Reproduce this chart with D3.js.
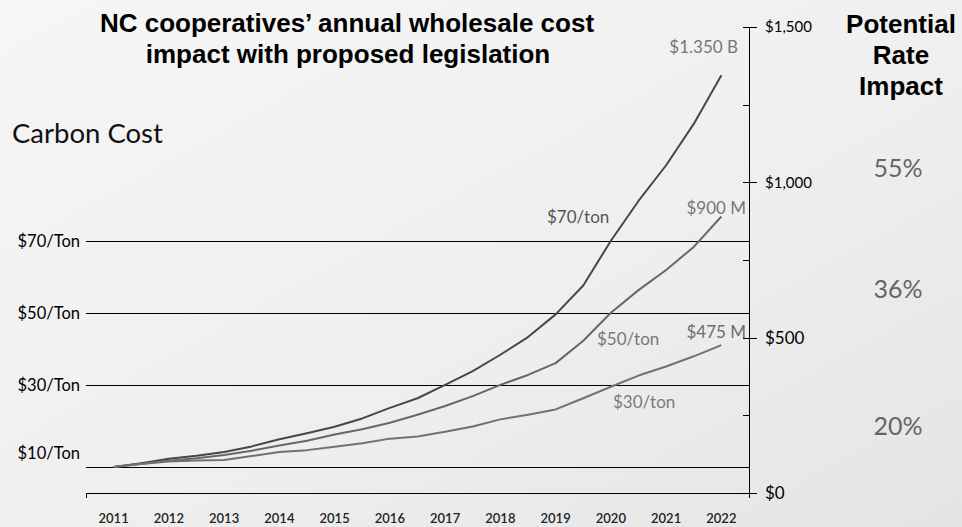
<!DOCTYPE html>
<html>
<head>
<meta charset="utf-8">
<script src="https://cdn.jsdelivr.net/npm/d3@7"></script>
<style>
  html, body { margin: 0; padding: 0; }
  body { width: 962px; height: 527px; overflow: hidden; }
  text { font-family: "Gill Sans", "Gill Sans MT", Lato, sans-serif; }
  .title { font-family: Arial, "Liberation Sans", sans-serif; font-weight: bold; }
</style>
</head>
<body>
<div id="chart"></div>
<script>
// half-year steps, 2011 -> 2022
var periods = [2011, 2011.5, 2012, 2012.5, 2013, 2013.5, 2014, 2014.5, 2015, 2015.5, 2016, 2016.5,
               2017, 2017.5, 2018, 2018.5, 2019, 2019.5, 2020, 2020.5, 2021, 2021.5, 2022];
// annual wholesale cost impact, $ millions
var cost70 = [84, 96, 110, 120, 132, 150, 173, 192, 213, 240, 274, 305,
              348, 392, 445, 502, 575, 668, 812, 940, 1055, 1188, 1345];
var cost50 = [84, 94, 104, 112, 122, 136, 153, 168, 188, 205, 226, 252,
              280, 312, 348, 380, 418, 490, 580, 653, 718, 792, 890];
var cost30 = [84, 93, 101, 105, 106, 119, 132, 138, 149, 160, 175, 182,
              197, 214, 237, 252, 269, 305, 342, 378, 407, 440, 476];

var xTickYears = [2011, 2012, 2013, 2014, 2015, 2016, 2017, 2018, 2019, 2020, 2021, 2022];
var costTicks = [0, 500, 1000, 1500];
var costMinorTicks = [250, 750, 1250];

// carbon price guide lines, read in cost units off the right axis
var carbonLabels = ["$10/Ton", "$30/Ton", "$50/Ton", "$70/Ton"];
var carbonLevels = [84, 348, 579, 811];

var seriesNames = ["$70/ton", "$50/ton", "$30/ton"];
var endLabels = ["$1.350 B", "$900 M", "$475 M"];
var rateImpact = ["55%", "36%", "20%"];

var width = 962, height = 527;
var margin = { left: 86, right: 213, top: 27, bottom: 34 };

var svg = d3.select("#chart").append("svg")
    .attr("width", width)
    .attr("height", height);

var defs = svg.append("defs");
var grad = defs.append("linearGradient")
    .attr("id", "bg")
    .attr("x1", "0").attr("y1", "0").attr("x2", "1").attr("y2", "1");
grad.append("stop").attr("offset", "0%").attr("stop-color", "#f6f6f6");
grad.append("stop").attr("offset", "55%").attr("stop-color", "#efefef");
grad.append("stop").attr("offset", "100%").attr("stop-color", "#e4e4e4");

svg.append("rect")
    .attr("width", width)
    .attr("height", height)
    .attr("fill", "url(#bg)");

var x = d3.scaleLinear()
    .domain([2010.5, 2022.5])
    .range([margin.left, width - margin.right]);

var y = d3.scaleLinear()
    .domain([0, 1500])
    .range([height - margin.bottom, margin.top]);

var x0 = x.range()[0], x1 = x.range()[1];

// title
var title = svg.append("text")
    .attr("class", "title")
    .attr("text-anchor", "middle")
    .attr("font-size", "26px")
    .attr("fill", "#000");
title.append("tspan").attr("x", 347).attr("y", 32).text("NC cooperatives\u2019 annual wholesale cost");
title.append("tspan").attr("x", 348).attr("y", 63).text("impact with proposed legislation");

var side = svg.append("text")
    .attr("class", "title")
    .attr("text-anchor", "middle")
    .attr("font-size", "26px")
    .attr("fill", "#000");
["Potential", "Rate", "Impact"].forEach(function(t, i) {
    side.append("tspan").attr("x", 901).attr("y", 33 + i * 31).text(t);
});

svg.append("text")
    .attr("x", 12)
    .attr("y", 143)
    .attr("font-size", "27.5px")
    .attr("fill", "#111")
    .text("Carbon Cost");

// carbon guide lines
var guides = svg.append("g");
carbonLevels.forEach(function(v, i) {
    guides.append("line")
        .attr("x1", x0).attr("x2", x1)
        .attr("y1", Math.round(y(v)) + 0.5).attr("y2", Math.round(y(v)) + 0.5)
        .attr("stroke", "#000")
        .attr("stroke-width", 1);
    guides.append("text")
        .attr("x", 80)
        .attr("y", y(v) - (i === 0 ? 14 : 0))
        .attr("dy", "0.35em")
        .attr("text-anchor", "end")
        .attr("font-size", "16.5px")
        .attr("fill", "#000")
        .text(carbonLabels[i]);
});

// bottom axis
var xAxis = svg.append("g");
xAxis.append("path")
    .attr("d", "M" + (x0 + 0.5) + "," + (y(0) + 5) + "V" + (y(0) + 0.5) + "H" + x1)
    .attr("fill", "none")
    .attr("stroke", "#000");
xAxis.selectAll("text.year")
    .data(xTickYears)
    .join("text")
    .attr("class", "year")
    .attr("x", function(d) { return x(d); })
    .attr("y", 523)
    .attr("text-anchor", "middle")
    .attr("font-size", "13px")
    .attr("font-weight", "600")
    .attr("fill", "#222")
    .text(function(d) { return d; });

// right cost axis
var yAxis = svg.append("g");
yAxis.append("line")
    .attr("x1", x1 + 0.5).attr("x2", x1 + 0.5)
    .attr("y1", y(1500)).attr("y2", y(0) + 5)
    .attr("stroke", "#000");
yAxis.selectAll("line.major")
    .data(costTicks)
    .join("line")
    .attr("class", "major")
    .attr("x1", x1 - 6).attr("x2", x1 + 8)
    .attr("y1", function(d) { return Math.round(y(d)) + 0.5; })
    .attr("y2", function(d) { return Math.round(y(d)) + 0.5; })
    .attr("stroke", "#000");
yAxis.selectAll("line.minor")
    .data(costMinorTicks)
    .join("line")
    .attr("class", "minor")
    .attr("x1", x1 - 6).attr("x2", x1)
    .attr("y1", function(d) { return Math.round(y(d)) + 0.5; })
    .attr("y2", function(d) { return Math.round(y(d)) + 0.5; })
    .attr("stroke", "#000");
yAxis.selectAll("text")
    .data(costTicks)
    .join("text")
    .attr("x", x1 + 16)
    .attr("y", function(d) { return y(d); })
    .attr("dy", "0.35em")
    .attr("font-size", function(d) { return d >= 1000 ? "15px" : "17px"; })
    .attr("fill", "#000")
    .text(function(d) { return "$" + d3.format(",")(d); });

// cost lines
var series = [cost70, cost50, cost30];
var lineColors = ["#474747", "#676767", "#717171"];
var line = d3.line()
    .x(function(d, i) { return x(periods[i]); })
    .y(function(d) { return y(d); });

svg.append("g").selectAll("path")
    .data(series)
    .join("path")
    .attr("d", line)
    .attr("fill", "none")
    .attr("stroke", function(d, i) { return lineColors[i]; })
    .attr("stroke-width", 2)
    .attr("stroke-linejoin", "round");

// series labels
var nameSpots = [[547, 223], [597, 345], [613, 408]];
var nameColors = ["#555", "#777", "#7a7a7a"];
seriesNames.forEach(function(t, i) {
    svg.append("text")
        .attr("x", nameSpots[i][0]).attr("y", nameSpots[i][1])
        .attr("font-size", "17px")
        .attr("fill", nameColors[i])
        .text(t);
});

// end value labels, right-aligned over the last point
var endOffsets = [-22, -3, -7];
endLabels.forEach(function(t, i) {
    var s = series[i];
    svg.append("text")
        .attr("x", i === 0 ? 738 : 746)
        .attr("y", y(s[s.length - 1]) + endOffsets[i])
        .attr("text-anchor", "end")
        .attr("font-size", "17px")
        .attr("fill", i === 2 ? "#6c6c6c" : "#777")
        .text(t);
});

// potential rate impact
var rateY = [177, 298, 435];
rateImpact.forEach(function(t, i) {
    svg.append("text")
        .attr("x", 898).attr("y", rateY[i])
        .attr("text-anchor", "middle")
        .attr("font-size", "25px")
        .attr("fill", "#666")
        .text(t);
});
</script>
</body>
</html>
